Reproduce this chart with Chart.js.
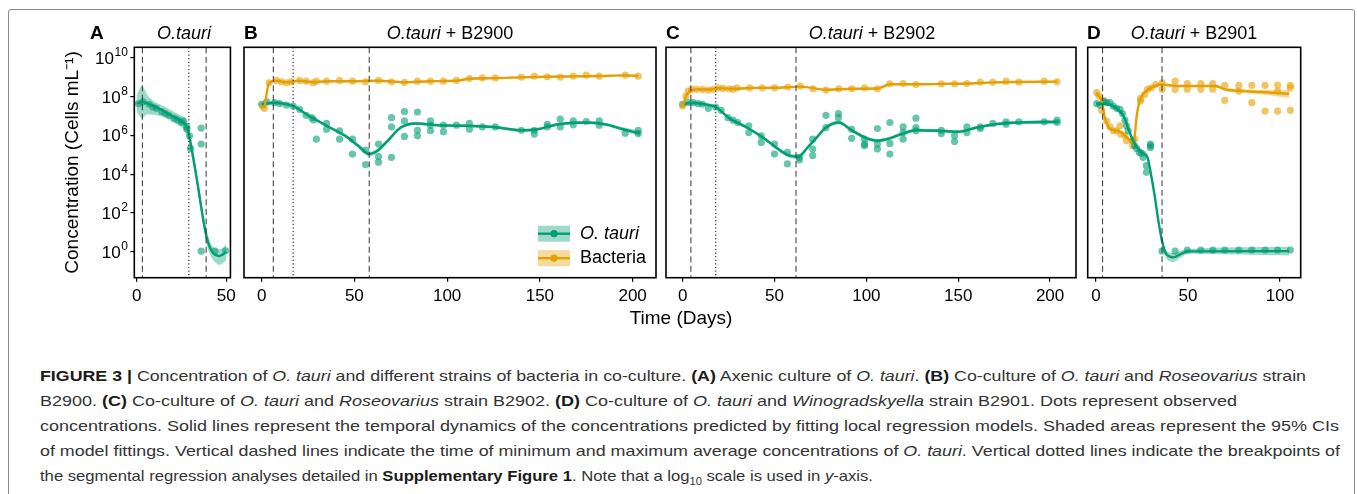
<!DOCTYPE html>
<html lang="en">
<head>
<meta charset="UTF-8" />
<title>Figure 3 - O. tauri co-culture</title>
<script src="https://cdn.jsdelivr.net/npm/chart.js"></script>
<style>
  body { margin: 0; background: #fff; font-family: "Liberation Sans", Arial, sans-serif; }
  #fig { position: relative; width: 1357px; height: 494px; overflow: hidden; }
  #frame { position: absolute; left: 8px; top: 9px; width: 1347px; height: 520px; border: 1px solid #8c8c8c; border-radius: 3px; box-sizing: border-box; }
  canvas { position: absolute; }
  .tag { position: absolute; top: 23px; font-size: 19px; font-weight: bold; line-height: 20px; }
  .ttl { position: absolute; top: 23px; font-size: 18px; line-height: 20px; white-space: nowrap; transform: translateX(-50%); }
  #xtitle { position: absolute; left: 681px; top: 307px; font-size: 19px; line-height: 22px; transform: translateX(-50%); white-space: nowrap; }
  .cap { position: absolute; left: 40px; font-size: 15px; line-height: 20px; color: #333; white-space: nowrap; transform-origin: 0 0; display: inline-block; }
  .cap b { color: #1a1a1a; }
</style>
</head>
<body>
<div id="fig">
  <div id="frame"></div>

  <canvas id="chartA" width="200" height="280" style="left:40px;top:40px;width:200px;height:280px"></canvas>
  <canvas id="chartB" width="420" height="280" style="left:240px;top:40px;width:420px;height:280px"></canvas>
  <canvas id="chartC" width="420" height="280" style="left:660px;top:40px;width:420px;height:280px"></canvas>
  <canvas id="chartD" width="240" height="280" style="left:1080px;top:40px;width:240px;height:280px"></canvas>

  <div class="tag" style="left:90px">A</div>
  <div class="tag" style="left:244px">B</div>
  <div class="tag" style="left:666px">C</div>
  <div class="tag" style="left:1087px">D</div>
  <div class="ttl" style="left:184px"><i>O.tauri</i></div>
  <div class="ttl" style="left:450px"><i>O.tauri</i> + B2900</div>
  <div class="ttl" style="left:872px"><i>O.tauri</i> + B2902</div>
  <div class="ttl" style="left:1194px"><i>O.tauri</i> + B2901</div>
  <div id="xtitle">Time (Days)</div>

  <div class="cap" data-w="1266" style="top:366px"><b>FIGURE 3 |</b> Concentration of <i>O. tauri</i> and different strains of bacteria in co-culture. <b>(A)</b> Axenic culture of <i>O. tauri</i>. <b>(B)</b> Co-culture of <i>O. tauri</i> and <i>Roseovarius</i> strain</div>
  <div class="cap" data-w="1197" style="top:391px">B2900. <b>(C)</b> Co-culture of <i>O. tauri</i> and <i>Roseovarius</i> strain B2902. <b>(D)</b> Co-culture of <i>O. tauri</i> and <i>Winogradskyella</i> strain B2901. Dots represent observed</div>
  <div class="cap" data-w="1299" style="top:416px">concentrations. Solid lines represent the temporal dynamics of the concentrations predicted by fitting local regression models. Shaded areas represent the 95% CIs</div>
  <div class="cap" data-w="1300" style="top:441px">of model fittings. Vertical dashed lines indicate the time of minimum and maximum average concentrations of <i>O. tauri</i>. Vertical dotted lines indicate the breakpoints of</div>
  <div class="cap" data-w="833" style="top:466px">the segmental regression analyses detailed in <b>Supplementary Figure 1</b>. Note that a log<sub style="font-size:10px">10</sub> scale is used in <i>y</i>-axis.</div>
</div>

<script>
// all concentrations are log10(cells per mL)

// y axis ticks (exponents)
var yTickExp = [0, 2, 4, 6, 8, 10];

// ---- A: O. tauri alone
var aOtDays = [1, 3.5, 7, 9, 11, 14, 16, 18, 21, 23, 25, 26, 28, 28, 29.5, 30, 36, 36, 36, 43.7, 49.6];
var aOtLog  = [7.64, 7.73, 7.61, 7.47, 7.40, 7.23, 7.13, 7.04, 6.89, 6.80, 6.67, 6.75, 6.44, 6.32, 5.98, 5.33, 6.38, 5.56, 0.03, 0.03, 0.05];
var aOtFitDays = [0, 3, 6, 10, 15, 20, 25, 28, 30, 32, 34, 36, 38, 40, 42, 44, 46, 48, 50];
var aOtFit = [7.64, 7.73, 7.66, 7.49, 7.26, 6.99, 6.72, 6.44, 5.64, 4.62, 3.50, 2.31, 1.20, 0.43, 0.00, -0.17, -0.22, -0.14, 0.00];
var aOtHi  = [8.09, 8.55, 8.09, 7.74, 7.52, 7.26, 7.01, 6.79, 6.07, 4.96, 3.85, 2.65, 1.54, 0.77, 0.34, 0.17, 0.12, 0.21, 0.43];
var aOtLo  = [7.23, 6.89, 7.09, 7.06, 6.96, 6.70, 6.41, 6.07, 5.18, 4.27, 3.16, 1.97, 0.85, 0.09, -0.34, -0.56, -0.68, -0.60, -0.43];
var aDashed = [3.2, 38.75];
var aDotted = [29.1];

// ---- B: O. tauri + B2900
var bBacDays = [0.5, 1.5, 4, 8, 10.7, 13.4, 16, 20.5, 24, 27.7, 29.5, 35, 42, 49, 56, 63, 70, 77, 84, 91, 98, 105, 112, 119, 126, 140, 147, 154, 161, 168, 175, 182, 196, 203];
var bBacLog  = [7.52, 7.40, 8.72, 8.84, 8.77, 8.72, 8.77, 8.84, 8.80, 8.72, 8.80, 8.80, 8.84, 8.80, 8.77, 8.84, 8.77, 8.74, 8.80, 8.80, 8.80, 8.84, 8.94, 8.97, 8.97, 9.01, 9.06, 9.03, 9.01, 9.06, 9.11, 9.06, 9.11, 9.06];
var bBacFitDays = [1.5, 4, 8, 13.4, 20.5, 27.7, 35, 49, 63, 77, 91, 105, 112, 126, 140, 154, 168, 182, 196, 203];
var bBacFit = [7.42, 8.70, 8.82, 8.74, 8.82, 8.75, 8.80, 8.80, 8.82, 8.75, 8.80, 8.82, 8.93, 8.96, 9.00, 9.03, 9.05, 9.07, 9.10, 9.07];
var bBacHi  = [7.50, 8.76, 8.87, 8.79, 8.87, 8.80, 8.85, 8.85, 8.87, 8.80, 8.85, 8.87, 8.98, 9.01, 9.05, 9.08, 9.10, 9.12, 9.15, 9.13];
var bBacLo  = [7.34, 8.64, 8.77, 8.69, 8.77, 8.70, 8.75, 8.75, 8.77, 8.70, 8.75, 8.77, 8.88, 8.91, 8.95, 8.98, 9.00, 9.02, 9.05, 9.01];
var bOtDays = [0, 2.7, 7, 9.8, 13.4, 17, 20.5, 24, 27, 28, 29.5, 35, 35, 42, 42, 49, 49, 56, 56, 63, 63, 63, 70, 70, 70, 77, 77, 77, 84, 84, 84, 91, 91, 91, 98, 98, 105, 112, 112, 119, 126, 140, 147, 147, 154, 154, 161, 161, 168, 168, 175, 182, 182, 196, 203, 203];
var bOtLog  = [7.61, 7.73, 7.69, 7.64, 7.57, 7.52, 7.35, 7.04, 6.92, 6.80, 5.81, 6.63, 6.32, 6.24, 5.81, 5.81, 5.04, 5.25, 4.50, 5.56, 4.91, 4.62, 6.92, 6.44, 4.87, 7.23, 6.75, 5.95, 7.21, 6.27, 5.98, 6.75, 6.53, 6.24, 6.53, 6.19, 6.53, 6.62, 6.32, 6.44, 6.44, 6.27, 6.27, 6.07, 6.44, 6.58, 6.84, 6.44, 6.75, 6.55, 6.72, 6.75, 6.53, 6.12, 6.27, 6.10];
var bOtFitDays = [0, 7, 12, 17, 25, 35, 45, 52, 58, 62, 68, 75, 83, 95, 110, 125, 140, 148, 160, 175, 185, 195, 204];
var bOtFit = [7.61, 7.69, 7.64, 7.52, 7.04, 6.50, 5.98, 5.47, 5.04, 5.18, 5.73, 6.41, 6.62, 6.53, 6.50, 6.44, 6.27, 6.31, 6.58, 6.67, 6.58, 6.32, 6.10];
var bOtHi  = [7.72, 7.78, 7.72, 7.60, 7.12, 6.58, 6.07, 5.58, 5.16, 5.30, 5.83, 6.50, 6.70, 6.61, 6.58, 6.52, 6.35, 6.39, 6.66, 6.75, 6.66, 6.42, 6.24];
var bOtLo  = [7.50, 7.60, 7.56, 7.44, 6.96, 6.42, 5.89, 5.36, 4.92, 5.06, 5.63, 6.32, 6.54, 6.45, 6.42, 6.36, 6.19, 6.23, 6.50, 6.59, 6.50, 6.22, 5.96];
var bDashed = [6.3, 58];
var bDotted = [17];

// ---- C: O. tauri + B2902
var cBacDays = [0, 1.8, 3, 4.9, 7.6, 10.8, 13.9, 16.6, 19.3, 22, 25.3, 27.4, 29.6, 36.5, 43.3, 50, 57.2, 64, 71, 78, 85, 92, 99, 106, 112.8, 120, 127, 140.8, 148, 154.7, 162, 168.8, 176, 183, 196.8, 203.8];
var cBacLog  = [7.52, 8.03, 8.29, 8.38, 8.38, 8.38, 8.34, 8.38, 8.46, 8.43, 8.41, 8.38, 8.46, 8.46, 8.46, 8.46, 8.50, 8.55, 8.41, 8.34, 8.41, 8.41, 8.46, 8.41, 8.67, 8.68, 8.63, 8.67, 8.67, 8.68, 8.75, 8.75, 8.80, 8.75, 8.80, 8.77];
var cBacFitDays = [0, 2, 4, 8, 15, 20, 28, 36, 50, 64, 78, 92, 106, 113, 127, 141, 155, 169, 183, 204];
var cBacFit = [7.50, 8.05, 8.30, 8.38, 8.37, 8.44, 8.40, 8.45, 8.46, 8.52, 8.36, 8.41, 8.42, 8.64, 8.64, 8.66, 8.68, 8.74, 8.76, 8.78];
var cBacHi  = [7.58, 8.11, 8.35, 8.43, 8.42, 8.49, 8.45, 8.50, 8.51, 8.57, 8.41, 8.46, 8.47, 8.69, 8.69, 8.71, 8.73, 8.79, 8.81, 8.84];
var cBacLo  = [7.42, 7.99, 8.25, 8.33, 8.32, 8.39, 8.35, 8.40, 8.41, 8.47, 8.31, 8.36, 8.37, 8.59, 8.59, 8.61, 8.63, 8.69, 8.71, 8.72];
var cOtDays = [0, 3, 5.8, 8.5, 10.8, 14, 18, 21, 24.7, 27.4, 30, 36, 36, 42.8, 42.8, 50, 50, 57, 57, 63.5, 63.5, 70.8, 70.8, 70.8, 78, 78, 84.8, 84.8, 92, 92, 99, 99, 99, 106, 106, 106, 112.8, 112.8, 112.8, 120, 120, 120, 127, 127, 127, 140.8, 140.8, 148, 148, 154.7, 154.7, 162, 162, 168.8, 176, 176, 183, 196.8, 203.8, 203.8];
var cOtLog  = [7.61, 7.69, 7.69, 7.64, 7.61, 7.40, 7.47, 7.30, 6.92, 6.79, 6.67, 6.50, 6.15, 5.98, 5.64, 5.56, 5.04, 5.13, 4.53, 4.87, 4.74, 5.81, 5.30, 4.96, 7.04, 6.41, 7.13, 6.92, 6.32, 5.85, 5.81, 5.56, 5.47, 6.36, 5.56, 5.30, 6.67, 5.59, 5.04, 6.44, 6.15, 5.81, 6.89, 6.41, 6.24, 6.27, 6.10, 5.98, 5.69, 6.44, 6.15, 6.44, 6.36, 6.62, 6.70, 6.58, 6.70, 6.70, 6.79, 6.67];
var cOtFitDays = [0, 5, 12, 18, 25, 35, 45, 52, 58, 63, 68, 73, 78, 85, 92, 100, 106, 113, 120, 127, 140, 150, 160, 170, 183, 204];
var cOtFit = [7.61, 7.69, 7.61, 7.47, 6.92, 6.41, 5.81, 5.30, 4.96, 4.91, 5.38, 5.90, 6.41, 6.67, 6.27, 5.86, 5.73, 5.86, 6.10, 6.27, 6.24, 6.19, 6.41, 6.58, 6.67, 6.70];
var cOtHi  = [7.70, 7.77, 7.69, 7.55, 7.00, 6.49, 5.90, 5.40, 5.07, 5.03, 5.48, 5.99, 6.50, 6.77, 6.36, 5.95, 5.82, 5.95, 6.19, 6.36, 6.32, 6.28, 6.49, 6.66, 6.75, 6.81];
var cOtLo  = [7.52, 7.61, 7.53, 7.39, 6.84, 6.33, 5.72, 5.20, 4.85, 4.79, 5.28, 5.81, 6.32, 6.57, 6.18, 5.77, 5.64, 5.77, 6.01, 6.18, 6.16, 6.10, 6.33, 6.50, 6.59, 6.59];
var cDashed = [4.5, 61.7];
var cDotted = [18];

// ---- D: O. tauri + B2901
var dBacDays = [0.4, 1.8, 3, 4.3, 5.8, 7.6, 9.4, 11.2, 13, 13.4, 15.7, 16.6, 19.9, 21, 24.2, 24.2, 26.5, 28, 30.1, 32.5, 36, 36, 43, 43, 49.6, 49.6, 57, 57, 63.5, 63.5, 70, 70, 77.6, 77.6, 84.7, 84.7, 91.9, 91.9, 98.7, 98.7, 98.7, 105.6, 105.6, 105.6];
var dBacLog  = [8.21, 8.03, 7.30, 7.78, 6.75, 6.44, 6.24, 6.24, 6.50, 6.07, 5.98, 5.73, 5.47, 5.81, 7.91, 7.78, 8.12, 8.38, 8.46, 8.63, 8.72, 8.38, 8.80, 8.38, 8.68, 8.38, 8.68, 8.38, 8.68, 8.38, 8.58, 7.81, 8.58, 8.29, 8.58, 7.69, 8.58, 7.26, 8.60, 8.29, 7.26, 8.58, 8.46, 7.30];
var dBacFitDays = [0, 3, 5, 8, 12, 16, 19, 20.5, 22, 24, 27, 30, 35, 45, 60, 65, 70, 80, 90, 105];
var dBacFit = [8.21, 7.78, 6.84, 6.32, 6.24, 5.98, 5.69, 5.56, 6.92, 7.86, 8.26, 8.46, 8.63, 8.55, 8.55, 8.55, 8.38, 8.29, 8.24, 8.15];
var dBacHi  = [8.27, 7.86, 6.92, 6.40, 6.32, 6.06, 5.78, 5.66, 7.02, 7.96, 8.36, 8.56, 8.70, 8.61, 8.61, 8.62, 8.47, 8.39, 8.36, 8.36];
var dBacLo  = [8.15, 7.70, 6.76, 6.24, 6.16, 5.90, 5.60, 5.46, 6.82, 7.76, 8.16, 8.36, 8.56, 8.49, 8.49, 8.48, 8.29, 8.19, 8.12, 7.94];
var dOtDays = [0.4, 2.2, 4.3, 5.8, 7.6, 9.4, 11.2, 13, 14.4, 15.7, 16.6, 17.5, 19.9, 21, 22, 23.5, 24.7, 25.6, 27.4, 27.4, 29.6, 29.6, 29.6, 35.9, 43, 49.6, 57, 63.5, 70, 77.6, 84.7, 91.9, 98.7, 105.6];
var dOtLog  = [7.64, 7.57, 7.78, 7.69, 7.69, 7.52, 7.40, 7.35, 7.13, 6.79, 6.50, 6.24, 5.73, 5.47, 5.33, 5.13, 5.08, 4.87, 4.44, 4.10, 5.56, 5.47, 5.38, 0.03, 0.03, 0.09, 0.09, 0.09, 0.09, 0.09, 0.09, 0.09, 0.09, 0.09];
var dOtFitDays = [0, 5, 10, 15, 18, 21, 25, 28, 30, 32, 34, 36, 38, 42, 46, 50, 105];
var dOtFit = [7.64, 7.64, 7.47, 7.01, 6.24, 5.56, 5.13, 4.87, 3.93, 2.82, 1.54, 0.51, -0.09, -0.29, -0.12, 0.02, 0.03];
var dOtHi  = [7.74, 7.72, 7.57, 7.13, 6.38, 5.70, 5.27, 5.03, 4.13, 3.02, 1.74, 0.69, 0.08, -0.06, 0.05, 0.14, 0.26];
var dOtLo  = [7.54, 7.56, 7.37, 6.89, 6.10, 5.42, 4.99, 4.71, 3.73, 2.62, 1.34, 0.33, -0.30, -0.54, -0.30, -0.10, -0.20];
var dDashed = [3.6, 35.9];
var dDotted = [];

// ---- styles
var GREEN = '#009E73', ORANGE = '#E69F00';
var GREEN_DOT = 'rgba(0,158,115,0.6)', ORANGE_DOT = 'rgba(230,159,0,0.6)';
var GREEN_BAND = 'rgba(0,158,115,0.38)', ORANGE_BAND = 'rgba(230,159,0,0.38)';
var FONT = '"Liberation Sans", Arial, sans-serif';

Chart.defaults.font.family = FONT;
Chart.defaults.color = '#000';

function xy(xs, ys) { return xs.map(function (x, i) { return { x: x, y: ys[i] }; }); }

function seriesSets(s) {
  return [
    { data: xy(s.fitDays, s.hi), fill: '+1', backgroundColor: s.band, borderColor: 'transparent', borderWidth: 0, pointRadius: 0, cubicInterpolationMode: 'monotone', order: 3 },
    { data: xy(s.fitDays, s.lo), fill: false, borderColor: 'transparent', borderWidth: 0, pointRadius: 0, cubicInterpolationMode: 'monotone', order: 3 },
    { data: xy(s.days, s.vals), showLine: false, pointRadius: 3.6, pointBackgroundColor: s.dot, pointBorderWidth: 0, pointBorderColor: 'transparent', order: 2 },
    { data: xy(s.fitDays, s.fit), borderColor: s.color, borderWidth: 2.4, pointRadius: 0, cubicInterpolationMode: 'monotone', fill: false, order: 1 }
  ];
}

function legendKey(ctx, x, y, band, color) {
  ctx.fillStyle = band;
  ctx.fillRect(x, y, 32, 16);
  ctx.strokeStyle = color;
  ctx.lineWidth = 2.4;
  ctx.beginPath(); ctx.moveTo(x, y + 8); ctx.lineTo(x + 32, y + 8); ctx.stroke();
  ctx.fillStyle = color;
  ctx.beginPath(); ctx.arc(x + 16, y + 8, 3.6, 0, Math.PI * 2); ctx.fill();
}

// "10" with a raised exponent, right aligned at xRight
function powerLabel(ctx, xRight, yMid, exp) {
  ctx.save();
  ctx.fillStyle = '#000';
  ctx.textBaseline = 'alphabetic';
  ctx.textAlign = 'left';
  ctx.font = '12px ' + FONT;
  var ew = ctx.measureText(String(exp)).width;
  ctx.font = '17px ' + FONT;
  var bw = ctx.measureText('10').width;
  var x0 = xRight - ew - bw;
  ctx.fillText('10', x0, yMid + 6);
  ctx.font = '12px ' + FONT;
  ctx.fillText(String(exp), x0 + bw + 0.5, yMid - 1.5);
  ctx.restore();
}

function makePanel(id, o) {
  var sets = [];
  o.series.forEach(function (s) { sets = sets.concat(seriesSets(s)); });

  var extras = {
    id: 'extras',
    afterDatasetsDraw: function (chart) {
      var ctx = chart.ctx, a = chart.chartArea, x = chart.scales.x, y = chart.scales.y;
      ctx.save();
      ctx.strokeStyle = '#333';
      ctx.lineWidth = 1;
      ctx.setLineDash([6, 3.5]);
      o.dashed.forEach(function (d) {
        var px = x.getPixelForValue(d);
        ctx.beginPath(); ctx.moveTo(px, a.top); ctx.lineTo(px, a.bottom); ctx.stroke();
      });
      ctx.lineWidth = 1.2;
      ctx.setLineDash([1.2, 2.4]);
      o.dotted.forEach(function (d) {
        var px = x.getPixelForValue(d);
        ctx.beginPath(); ctx.moveTo(px, a.top); ctx.lineTo(px, a.bottom); ctx.stroke();
      });
      ctx.setLineDash([]);
      ctx.strokeStyle = '#000';
      ctx.lineWidth = 1.6;
      ctx.strokeRect(a.left, a.top, a.right - a.left, a.bottom - a.top);

      if (o.yAxis) {
        yTickExp.forEach(function (e) { powerLabel(ctx, a.left - 7, y.getPixelForValue(e), e); });
      }

      if (o.legend) {
        legendKey(ctx, a.right - 118, a.bottom - 52, GREEN_BAND, GREEN);
        legendKey(ctx, a.right - 118, a.bottom - 27.5, ORANGE_BAND, ORANGE);
        ctx.fillStyle = '#000';
        ctx.textBaseline = 'middle';
        ctx.textAlign = 'left';
        ctx.font = 'italic 18px ' + FONT;
        ctx.fillText('O. tauri', a.right - 76, a.bottom - 44);
        ctx.font = '18px ' + FONT;
        ctx.fillText('Bacteria', a.right - 76, a.bottom - 19.5);
      }
      ctx.restore();
    }
  };

  var yAxis = {
    type: 'linear', min: -1.34, max: 10.55,
    display: !!o.yAxis,
    afterBuildTicks: function (s) { s.ticks = yTickExp.map(function (v) { return { value: v }; }); },
    grid: { display: true, drawOnChartArea: false, drawTicks: true, tickLength: 4, color: '#000', lineWidth: 1.2 },
    border: { display: false },
    ticks: { display: false },
    title: { display: true, text: 'Concentration (Cells mL\u207b\u00b9)', font: { size: 19 }, color: '#000', padding: { top: 4, bottom: 0 } }
  };
  if (o.yAxis) yAxis.afterFit = function (s) { s.width = o.yWidth; };

  return new Chart(document.getElementById(id), {
    type: 'line',
    data: { datasets: sets },
    options: {
      responsive: false,
      animation: false,
      events: [],
      layout: { padding: o.pad },
      plugins: { legend: { display: false }, tooltip: { enabled: false } },
      scales: {
        x: {
          type: 'linear', min: o.xMin, max: o.xMax,
          afterBuildTicks: function (s) { s.ticks = o.xTicks.map(function (v) { return { value: v }; }); },
          afterFit: function (s) { s.height = 30; },
          grid: { display: true, drawOnChartArea: false, drawTicks: true, tickLength: 4, color: '#000', lineWidth: 1.2 },
          border: { display: false },
          ticks: { font: { size: 17 }, color: '#000', padding: 4, maxRotation: 0, autoSkip: false }
        },
        y: yAxis
      }
    },
    plugins: [extras]
  });
}

var otauri = function (days, vals, fitDays, fit, hi, lo) {
  return { days: days, vals: vals, fitDays: fitDays, fit: fit, hi: hi, lo: lo, color: GREEN, dot: GREEN_DOT, band: GREEN_BAND };
};
var bacteria = function (days, vals, fitDays, fit, hi, lo) {
  return { days: days, vals: vals, fitDays: fitDays, fit: fit, hi: hi, lo: lo, color: ORANGE, dot: ORANGE_DOT, band: ORANGE_BAND };
};

makePanel('chartA', {
  xMin: -1.3, xMax: 52.3, xTicks: [0, 50], yAxis: true, yWidth: 77.3,
  pad: { left: 17, right: 5.7, top: 7.3, bottom: 12.3 },
  dashed: aDashed, dotted: aDotted,
  series: [otauri(aOtDays, aOtLog, aOtFitDays, aOtFit, aOtHi, aOtLo)]
});

makePanel('chartB', {
  xMin: -9.5, xMax: 212.6, xTicks: [0, 50, 100, 150, 200],
  pad: { left: 4, right: 4, top: 7.3, bottom: 12.3 },
  dashed: bDashed, dotted: bDotted, legend: true,
  series: [
    bacteria(bBacDays, bBacLog, bBacFitDays, bBacFit, bBacHi, bBacLo),
    otauri(bOtDays, bOtLog, bOtFitDays, bOtFit, bOtHi, bOtLo)
  ]
});

makePanel('chartC', {
  xMin: -9.05, xMax: 214.1, xTicks: [0, 50, 100, 150, 200],
  pad: { left: 6, right: 2.3, top: 7.3, bottom: 12.3 },
  dashed: cDashed, dotted: cDotted,
  series: [
    bacteria(cBacDays, cBacLog, cBacFitDays, cBacFit, cBacHi, cBacLo),
    otauri(cOtDays, cOtLog, cOtFitDays, cOtFit, cOtHi, cOtLo)
  ]
});

makePanel('chartD', {
  xMin: -4.5, xMax: 111.25, xTicks: [0, 50, 100],
  pad: { left: 7.7, right: 19.3, top: 7.3, bottom: 12.3 },
  dashed: dDashed, dotted: dDotted,
  series: [
    otauri(dOtDays, dOtLog, dOtFitDays, dOtFit, dOtHi, dOtLo),
    bacteria(dBacDays, dBacLog, dBacFitDays, dBacFit, dBacHi, dBacLo)
  ]
});

// stretch each caption line to the width it has in the printed figure
document.querySelectorAll('.cap').forEach(function (el) {
  var w = el.getBoundingClientRect().width;
  el.style.transform = 'scaleX(' + (Number(el.dataset.w) / w) + ')';
});
</script>
</body>
</html>
